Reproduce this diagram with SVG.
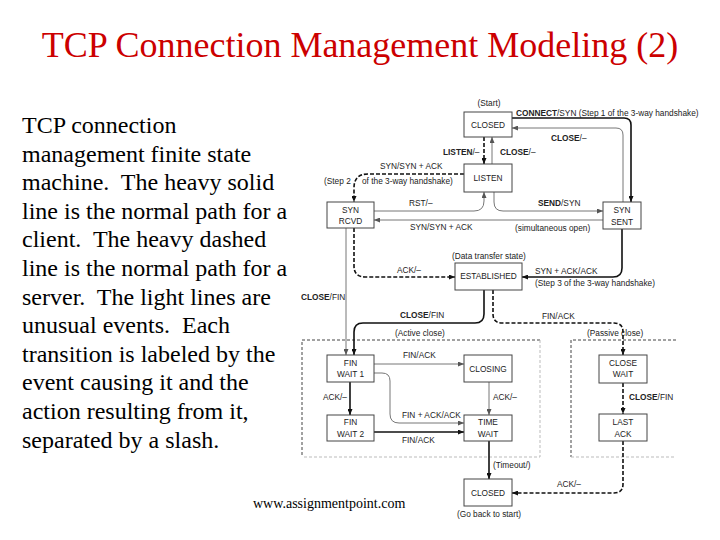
<svg xmlns="http://www.w3.org/2000/svg" width="720" height="540" viewBox="0 0 720 540">
<style>
.title{font-family:"Liberation Serif","Times New Roman",serif;font-size:36px;fill:#cc0000}
.desc{font-family:"Times New Roman","Liberation Serif",serif;font-size:24px;fill:#000;white-space:pre}
.url{font-family:"Liberation Serif","Times New Roman",serif;font-size:14px;fill:#000}
.t{font-family:"Liberation Sans",Arial,sans-serif;font-size:8.3px;fill:#222}
.c{text-anchor:middle}
.b{font-weight:bold}
.box{fill:#fff;stroke:#444;stroke-width:1}
.hs{fill:none;stroke:#111;stroke-width:1.6}
.hd{fill:none;stroke:#111;stroke-width:1.6;stroke-dasharray:4 2}
.lt{fill:none;stroke:#777;stroke-width:1}
.fd{fill:none;stroke:#444;stroke-width:1;stroke-dasharray:3 2}
.fl{fill:none;stroke:#bbb;stroke-width:1;stroke-dasharray:3 2}
</style>
<defs>
<marker id="ah" markerUnits="userSpaceOnUse" markerWidth="6" markerHeight="5" refX="6" refY="2.5" orient="auto"><path d="M0,0 L6,2.5 L0,5 z" fill="#111"/></marker>
<marker id="ahl" markerUnits="userSpaceOnUse" markerWidth="6" markerHeight="5" refX="6" refY="2.5" orient="auto"><path d="M0,0 L6,2.5 L0,5 z" fill="#555"/></marker>
</defs>
<rect width="720" height="540" fill="#fff"/>
<text class="title" x="360" y="57" text-anchor="middle">TCP Connection Management Modeling (2)</text>
<g id="description">
<text class="desc" x="22" y="133">TCP connection</text>
<text class="desc" x="22" y="161.6">management finite state</text>
<text class="desc" x="22" y="190.2" xml:space="preserve">machine.  The heavy solid</text>
<text class="desc" x="22" y="218.8">line is the normal path for a</text>
<text class="desc" x="22" y="247.4" xml:space="preserve">client.  The heavy dashed</text>
<text class="desc" x="22" y="276">line is the normal path for a</text>
<text class="desc" x="22" y="304.6" xml:space="preserve">server.  The light lines are</text>
<text class="desc" x="22" y="333.2" xml:space="preserve">unusual events.  Each</text>
<text class="desc" x="22" y="361.8">transition is labeled by the</text>
<text class="desc" x="22" y="390.4">event causing it and the</text>
<text class="desc" x="22" y="419">action resulting from it,</text>
<text class="desc" x="22" y="447.6">separated by a slash.</text>
</g>
<text class="url" x="253" y="508">www.assignmentpoint.com</text>
<g id="frames">
<path class="fd" d="M540,340 H302 V457"/>
<path class="fl" d="M540,340 V457 H302"/>
<path class="fd" d="M676,340 H571 V457"/>
<path class="fl" d="M571,457 H676"/>
</g>
<g id="connectors">
<path class="hs" d="M512,118 H624 Q631,118 631,125 V202" marker-end="url(#ah)"/>
<path class="lt" d="M623,202 V135 Q623,128 616,128 H512" marker-end="url(#ahl)"/>
<path class="hd" d="M484,137 V164" marker-end="url(#ah)"/>
<path class="lt" d="M492,164 V137" marker-end="url(#ahl)"/>
<path class="hd" d="M464,174 H368 Q354,174 354,188 V202" marker-end="url(#ah)"/>
<path class="lt" d="M374,211 H474 Q484,211 484,201 V192" marker-end="url(#ahl)"/>
<path class="lt" d="M494,192 V202 Q494,211 503,211 H603" marker-end="url(#ahl)"/>
<path class="lt" d="M603,220 H374" marker-end="url(#ahl)"/>
<path class="hs" d="M622,229 V268 Q622,277 613,277 H522" marker-end="url(#ah)"/>
<path class="hd" d="M354,228 V266 Q354,277 365,277 H455" marker-end="url(#ah)"/>
<path class="lt" d="M346,228 V355" marker-end="url(#ahl)"/>
<path class="hs" d="M484,290 V314 Q484,323 475,323 H363 Q354,323 354,332 V355" marker-end="url(#ah)"/>
<path class="hd" d="M493,290 V314 Q493,323 502,323 H614 Q623,323 623,332 V355" marker-end="url(#ah)"/>
<path class="lt" d="M374,364 H464" marker-end="url(#ahl)"/>
<path class="hs" d="M350,382 V415" marker-end="url(#ah)"/>
<path class="lt" d="M374,373 H382 Q390,373 390,381 V414 Q390,423 399,423 H464" marker-end="url(#ahl)"/>
<path class="hs" d="M374,432 H464" marker-end="url(#ah)"/>
<path class="lt" d="M489,382 V415" marker-end="url(#ahl)"/>
<path class="hs" d="M489,441 V479" marker-end="url(#ah)"/>
<path class="hd" d="M623,383 V414" marker-end="url(#ah)"/>
<path class="hd" d="M623,441 V484 Q623,493 614,493 H512" marker-end="url(#ah)"/>
</g>
<g id="labels">
<text class="t c" x="489" y="106">(Start)</text>
<text class="t" x="516" y="116"><tspan class="b">CONNECT</tspan>/SYN (Step 1 of the 3-way handshake)</text>
<text class="t" x="551" y="141"><tspan class="b">CLOSE</tspan>/–</text>
<text class="t" x="443" y="155"><tspan class="b">LISTEN</tspan>/–</text>
<text class="t" x="500" y="155"><tspan class="b">CLOSE</tspan>/–</text>
<text class="t" x="380" y="169">SYN/SYN + ACK</text>
<text class="t" x="324" y="184">(Step 2</text>
<text class="t" x="362" y="184">of the 3-way handshake)</text>
<text class="t" x="409" y="206">RST/–</text>
<text class="t" x="538" y="206"><tspan class="b">SEND</tspan>/SYN</text>
<text class="t" x="410" y="230">SYN/SYN + ACK</text>
<text class="t" x="515" y="231">(simultaneous open)</text>
<text class="t" x="452" y="259">(Data transfer state)</text>
<text class="t" x="397" y="273">ACK/–</text>
<text class="t" x="535" y="274">SYN + ACK/ACK</text>
<text class="t" x="535" y="286">(Step 3 of the 3-way handshake)</text>
<text class="t" x="301" y="300"><tspan class="b">CLOSE</tspan>/FIN</text>
<text class="t" x="400" y="318"><tspan class="b">CLOSE</tspan>/FIN</text>
<text class="t" x="542" y="319">FIN/ACK</text>
<text class="t" x="395" y="336">(Active close)</text>
<text class="t" x="587" y="336">(Passive close)</text>
<text class="t" x="403" y="358">FIN/ACK</text>
<text class="t" x="323" y="400">ACK/–</text>
<text class="t" x="493" y="400">ACK/–</text>
<text class="t" x="629" y="400"><tspan class="b">CLOSE</tspan>/FIN</text>
<text class="t" x="402" y="418">FIN + ACK/ACK</text>
<text class="t" x="402" y="443">FIN/ACK</text>
<text class="t" x="493" y="468">(Timeout/)</text>
<text class="t" x="557" y="487">ACK/–</text>
<text class="t c" x="489" y="517">(Go back to start)</text>
</g>
<g id="closed-start"><rect class="box" x="464" y="112" width="48" height="25"/><text class="t c" x="488" y="128">CLOSED</text></g>
<g id="listen"><rect class="box" x="464" y="164" width="48" height="28"/><text class="t c" x="488" y="181">LISTEN</text></g>
<g id="syn-rcvd"><rect class="box" x="327" y="202" width="47" height="26"/><text class="t c" x="350.5" y="213">SYN</text><text class="t c" x="350.5" y="224">RCVD</text></g>
<g id="syn-sent"><rect class="box" x="603" y="202" width="38" height="27"/><text class="t c" x="622" y="213">SYN</text><text class="t c" x="622" y="225">SENT</text></g>
<g id="established"><rect class="box" x="455" y="263" width="67" height="27"/><text class="t c" x="488.5" y="279">ESTABLISHED</text></g>
<g id="fin-wait-1"><rect class="box" x="327" y="355" width="47" height="27"/><text class="t c" x="350.5" y="366">FIN</text><text class="t c" x="350.5" y="377">WAIT 1</text></g>
<g id="closing"><rect class="box" x="464" y="355" width="48" height="27"/><text class="t c" x="488" y="372">CLOSING</text></g>
<g id="close-wait"><rect class="box" x="599" y="355" width="48" height="28"/><text class="t c" x="623" y="366">CLOSE</text><text class="t c" x="623" y="377">WAIT</text></g>
<g id="fin-wait-2"><rect class="box" x="327" y="415" width="47" height="26"/><text class="t c" x="350.5" y="425">FIN</text><text class="t c" x="350.5" y="437">WAIT 2</text></g>
<g id="time-wait"><rect class="box" x="464" y="415" width="48" height="26"/><text class="t c" x="488" y="425">TIME</text><text class="t c" x="488" y="437">WAIT</text></g>
<g id="last-ack"><rect class="box" x="599" y="414" width="48" height="27"/><text class="t c" x="623" y="425">LAST</text><text class="t c" x="623" y="437">ACK</text></g>
<g id="closed-end"><rect class="box" x="464" y="479" width="48" height="27"/><text class="t c" x="488" y="496">CLOSED</text></g>
</svg>
